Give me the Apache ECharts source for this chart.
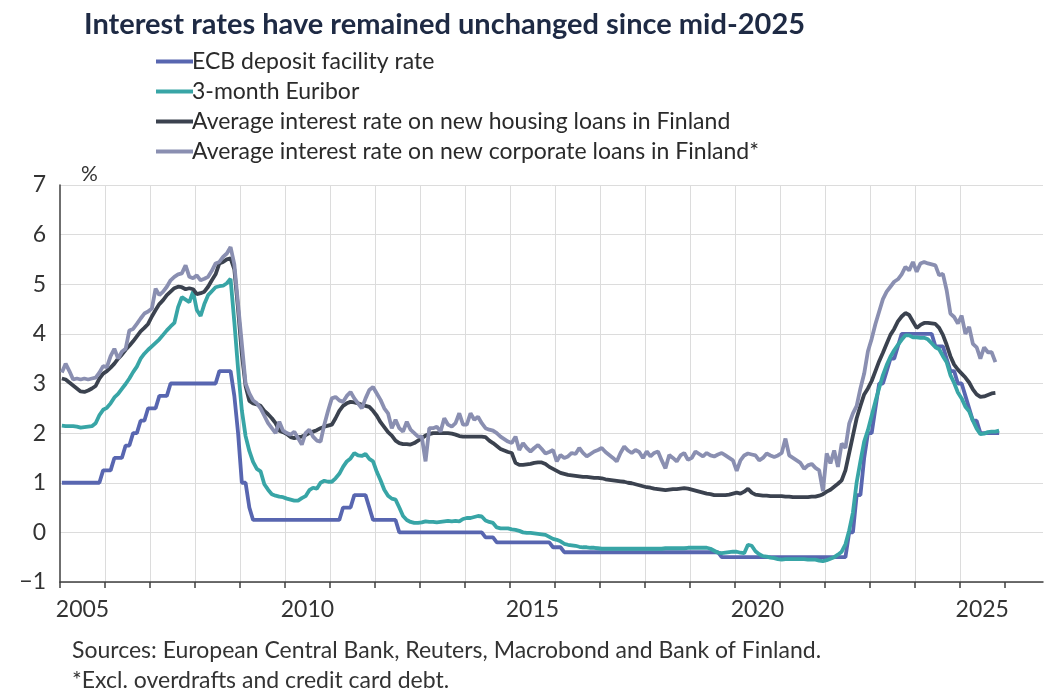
<!DOCTYPE html>
<html>
<head>
<meta charset="utf-8">
<script src="https://cdn.jsdelivr.net/npm/echarts@6/dist/echarts.min.js"></script>
<style>
html,body{margin:0;padding:0;background:#fff;}
#chart{width:1046px;height:691px;}
</style>
</head>
<body>
<div id="chart"></div>
<script>
// Monthly observations, first value = January 2005
const startYear = 2005;

const seriesNames = [
  'ECB deposit facility rate',
  '3-month Euribor',
  'Average interest rate on new housing loans in Finland',
  'Average interest rate on new corporate loans in Finland*'
];

const ecbDepositRate = [
  1.00,1.00,1.00,1.00,1.00,1.00,1.00,1.00,1.00,1.00,1.00,1.25, // 2005
  1.25,1.25,1.50,1.50,1.50,1.75,1.75,2.00,2.00,2.25,2.25,2.50, // 2006
  2.50,2.50,2.75,2.75,2.75,3.00,3.00,3.00,3.00,3.00,3.00,3.00, // 2007
  3.00,3.00,3.00,3.00,3.00,3.00,3.25,3.25,3.25,3.25,2.75,2.00, // 2008
  1.00,1.00,0.50,0.25,0.25,0.25,0.25,0.25,0.25,0.25,0.25,0.25, // 2009
  0.25,0.25,0.25,0.25,0.25,0.25,0.25,0.25,0.25,0.25,0.25,0.25, // 2010
  0.25,0.25,0.25,0.50,0.50,0.50,0.75,0.75,0.75,0.75,0.50,0.25, // 2011
  0.25,0.25,0.25,0.25,0.25,0.25,0.00,0.00,0.00,0.00,0.00,0.00, // 2012
  0.00,0.00,0.00,0.00,0.00,0.00,0.00,0.00,0.00,0.00,0.00,0.00, // 2013
  0.00,0.00,0.00,0.00,0.00,-0.10,-0.10,-0.10,-0.20,-0.20,-0.20,-0.20, // 2014
  -0.20,-0.20,-0.20,-0.20,-0.20,-0.20,-0.20,-0.20,-0.20,-0.20,-0.20,-0.30, // 2015
  -0.30,-0.30,-0.40,-0.40,-0.40,-0.40,-0.40,-0.40,-0.40,-0.40,-0.40,-0.40, // 2016
  -0.40,-0.40,-0.40,-0.40,-0.40,-0.40,-0.40,-0.40,-0.40,-0.40,-0.40,-0.40, // 2017
  -0.40,-0.40,-0.40,-0.40,-0.40,-0.40,-0.40,-0.40,-0.40,-0.40,-0.40,-0.40, // 2018
  -0.40,-0.40,-0.40,-0.40,-0.40,-0.40,-0.40,-0.40,-0.50,-0.50,-0.50,-0.50, // 2019
  -0.50,-0.50,-0.50,-0.50,-0.50,-0.50,-0.50,-0.50,-0.50,-0.50,-0.50,-0.50, // 2020
  -0.50,-0.50,-0.50,-0.50,-0.50,-0.50,-0.50,-0.50,-0.50,-0.50,-0.50,-0.50, // 2021
  -0.50,-0.50,-0.50,-0.50,-0.50,-0.50,0.00,0.00,0.75,0.75,1.50,2.00, // 2022
  2.00,2.50,3.00,3.00,3.25,3.50,3.50,3.75,4.00,4.00,4.00,4.00, // 2023
  4.00,4.00,4.00,4.00,4.00,3.75,3.75,3.75,3.50,3.25,3.25,3.00, // 2024
  3.00,2.75,2.50,2.25,2.25,2.00,2.00,2.00,2.00,2.00,2.00       // 2025
];

const euribor3m = [
  2.15,2.14,2.14,2.14,2.13,2.11,2.12,2.13,2.14,2.20,2.36,2.47,
  2.51,2.60,2.72,2.79,2.89,2.99,3.10,3.23,3.34,3.50,3.60,3.68,
  3.75,3.82,3.89,3.98,4.07,4.15,4.22,4.54,4.74,4.69,4.64,4.85,
  4.48,4.36,4.60,4.78,4.86,4.94,4.96,4.97,5.02,5.11,4.24,3.29,
  2.46,1.94,1.64,1.42,1.28,1.23,0.97,0.86,0.77,0.74,0.72,0.71,
  0.68,0.66,0.64,0.64,0.69,0.73,0.85,0.90,0.88,1.00,1.04,1.02,
  1.02,1.09,1.18,1.32,1.43,1.49,1.60,1.55,1.54,1.58,1.48,1.43,
  1.22,1.05,0.86,0.74,0.68,0.66,0.50,0.33,0.25,0.21,0.19,0.19,
  0.20,0.22,0.21,0.21,0.20,0.21,0.22,0.23,0.22,0.23,0.22,0.27,
  0.29,0.29,0.31,0.33,0.32,0.24,0.21,0.19,0.10,0.08,0.08,0.08,
  0.06,0.05,0.03,0.00,-0.01,-0.01,-0.02,-0.03,-0.04,-0.05,-0.09,-0.13,
  -0.15,-0.18,-0.23,-0.25,-0.26,-0.27,-0.29,-0.30,-0.30,-0.31,-0.31,-0.32,
  -0.33,-0.33,-0.33,-0.33,-0.33,-0.33,-0.33,-0.33,-0.33,-0.33,-0.33,-0.33,
  -0.33,-0.33,-0.33,-0.33,-0.33,-0.32,-0.32,-0.32,-0.32,-0.32,-0.32,-0.31,
  -0.31,-0.31,-0.31,-0.31,-0.31,-0.33,-0.37,-0.41,-0.42,-0.41,-0.40,-0.39,
  -0.39,-0.41,-0.42,-0.25,-0.27,-0.38,-0.44,-0.48,-0.49,-0.51,-0.52,-0.54,
  -0.55,-0.54,-0.54,-0.54,-0.54,-0.54,-0.54,-0.55,-0.55,-0.55,-0.57,-0.58,
  -0.56,-0.53,-0.50,-0.45,-0.39,-0.24,0.04,0.40,1.01,1.43,1.83,2.06,
  2.35,2.64,2.91,3.17,3.37,3.54,3.67,3.78,3.88,3.97,3.97,3.93,
  3.93,3.92,3.92,3.89,3.81,3.73,3.69,3.55,3.43,3.17,3.01,2.82,
  2.70,2.53,2.44,2.25,2.09,1.98,1.99,2.02,2.03,2.03,2.05
];

const housingLoanRate = [
  3.10,3.08,3.02,2.96,2.90,2.84,2.83,2.86,2.90,2.95,3.10,3.20,
  3.25,3.32,3.40,3.50,3.58,3.68,3.76,3.85,3.95,4.05,4.12,4.20,
  4.35,4.48,4.60,4.68,4.78,4.85,4.92,4.95,4.94,4.90,4.92,4.90,
  4.80,4.82,4.85,4.95,5.08,5.20,5.42,5.45,5.50,5.52,5.30,4.50,
  3.60,2.95,2.65,2.60,2.58,2.55,2.45,2.38,2.30,2.20,2.05,2.02,
  1.98,1.92,1.90,1.92,1.93,1.96,2.00,2.03,2.06,2.10,2.13,2.15,
  2.17,2.30,2.45,2.55,2.60,2.63,2.62,2.60,2.57,2.55,2.53,2.45,
  2.35,2.22,2.12,2.02,1.95,1.85,1.80,1.78,1.78,1.77,1.80,1.85,
  1.90,1.95,1.98,2.00,2.00,2.00,2.00,2.00,1.99,1.97,1.94,1.93,
  1.93,1.93,1.93,1.93,1.93,1.92,1.85,1.80,1.74,1.68,1.65,1.62,
  1.60,1.40,1.36,1.36,1.37,1.38,1.40,1.41,1.41,1.38,1.32,1.28,
  1.24,1.20,1.18,1.16,1.15,1.14,1.13,1.12,1.12,1.11,1.10,1.10,
  1.09,1.07,1.06,1.05,1.04,1.03,1.02,1.00,0.99,0.97,0.95,0.93,
  0.91,0.90,0.88,0.87,0.86,0.85,0.86,0.87,0.87,0.88,0.89,0.88,
  0.86,0.84,0.82,0.80,0.78,0.77,0.75,0.75,0.75,0.75,0.76,0.78,
  0.80,0.78,0.82,0.88,0.80,0.76,0.75,0.74,0.74,0.73,0.73,0.73,
  0.73,0.72,0.72,0.71,0.71,0.71,0.71,0.71,0.72,0.72,0.74,0.77,
  0.82,0.86,0.92,0.98,1.05,1.25,1.60,1.95,2.30,2.55,2.78,2.90,
  3.05,3.25,3.45,3.62,3.80,3.98,4.10,4.25,4.35,4.42,4.38,4.25,
  4.12,4.18,4.22,4.22,4.21,4.20,4.12,3.98,3.78,3.55,3.38,3.28,
  3.20,3.12,3.02,2.88,2.78,2.73,2.74,2.77,2.80,2.81
];

const corporateLoanRate = [
  3.22,3.40,3.25,3.08,3.10,3.08,3.10,3.08,3.10,3.12,3.22,3.35,
  3.33,3.55,3.70,3.50,3.64,3.70,4.07,4.10,4.20,4.31,4.41,4.45,
  4.51,4.91,4.78,4.85,4.95,5.08,5.15,5.20,5.22,5.38,5.15,5.12,
  5.18,5.08,5.11,5.15,5.27,5.42,5.45,5.55,5.62,5.75,5.40,4.60,
  3.80,3.00,2.80,2.66,2.60,2.50,2.35,2.20,2.10,2.00,2.23,2.05,
  2.00,1.97,2.03,1.90,1.77,2.00,2.07,1.93,1.85,1.83,2.17,2.45,
  2.70,2.73,2.66,2.63,2.75,2.83,2.70,2.60,2.50,2.70,2.87,2.93,
  2.80,2.67,2.50,2.40,2.10,2.27,2.10,2.03,2.23,2.07,2.00,1.93,
  1.93,1.43,2.10,2.10,2.13,2.03,2.30,2.17,2.13,2.20,2.40,2.17,
  2.17,2.40,2.27,2.33,2.20,2.10,2.07,2.05,2.00,1.93,1.88,1.83,
  1.80,1.93,1.66,1.80,1.70,1.63,1.70,1.76,1.68,1.59,1.62,1.66,
  1.43,1.56,1.50,1.53,1.60,1.58,1.70,1.60,1.53,1.58,1.63,1.66,
  1.70,1.62,1.56,1.50,1.43,1.60,1.73,1.65,1.60,1.66,1.62,1.50,
  1.63,1.53,1.60,1.63,1.45,1.29,1.56,1.50,1.43,1.55,1.60,1.46,
  1.50,1.63,1.58,1.53,1.60,1.55,1.53,1.57,1.60,1.55,1.50,1.45,
  1.24,1.45,1.55,1.59,1.57,1.55,1.45,1.50,1.59,1.55,1.52,1.55,
  1.60,1.89,1.55,1.50,1.45,1.40,1.28,1.35,1.38,1.30,1.25,0.83,
  1.59,1.39,1.65,1.32,1.79,1.70,2.19,2.40,2.55,2.90,3.20,3.65,
  3.90,4.20,4.45,4.70,4.85,4.95,5.05,5.10,5.20,5.35,5.28,5.45,
  5.25,5.42,5.45,5.42,5.40,5.38,5.18,5.21,4.88,4.41,4.34,4.21,
  4.37,4.00,4.14,3.80,3.73,3.50,3.73,3.63,3.63,3.43
];

const yTicks = [-1, 0, 1, 2, 3, 4, 5, 6, 7];
const yearTicks = [2005,2006,2007,2008,2009,2010,2011,2012,2013,2014,2015,2016,2017,2018,2019,2020,2021,2022,2023,2024,2025,2026];
const yearLabels = [2005, 2010, 2015, 2020, 2025];

const colors = ['#5866b0', '#38a5a6', '#3b424f', '#8a8fb1'];
const FONT = 'Lato';

// monthly observations are placed at mid-month
function toPoints(arr) {
  return arr.map((v, i) => [startYear + (i + 0.5) / 12, v]);
}

const chart = echarts.init(document.getElementById('chart'), null, {renderer: 'canvas'});

const seriesData = [ecbDepositRate, euribor3m, housingLoanRate, corporateLoanRate];

chart.setOption({
  animation: false,
  backgroundColor: '#ffffff',
  color: colors,
  textStyle: {fontFamily: FONT},
  title: {
    text: 'Interest rates have remained unchanged since mid-2025',
    left: 79,
    top: 5,
    textStyle: {fontFamily: FONT, fontWeight: 'bold', fontSize: 29, color: '#1e2a44'}
  },
  legend: {
    orient: 'vertical',
    left: 151,
    top: 45,
    itemWidth: 37,
    itemHeight: 4,
    itemGap: 7,
    icon: 'rect',
    selectedMode: false,
    data: seriesNames,
    textStyle: {fontFamily: FONT, fontSize: 23, color: '#2a2a2a', padding: [0, 0, 0, -6]}
  },
  grid: {left: 60, right: 3, top: 185, bottom: 109, containLabel: false},
  xAxis: {
    type: 'value',
    min: 2005,
    max: 2026.85,
    interval: 5,
    axisLine: {onZero: false, lineStyle: {color: '#3f3f3f', width: 1.5}},
    axisTick: {show: true, inside: false, length: 6, customValues: yearTicks, lineStyle: {color: '#3f3f3f', width: 1.5}},
    axisLabel: {
      customValues: yearLabels.map(y => y + 0.5),
      formatter: v => String(Math.floor(v)),
      fontFamily: FONT, fontSize: 23, color: '#333', margin: 16
    },
    splitLine: {show: true, showMinLine: false, showMaxLine: false, lineStyle: {color: '#dcdcdc', width: 1}}
  },
  yAxis: {
    type: 'value',
    min: -1,
    max: 7,
    interval: 1,
    axisLine: {show: true, lineStyle: {color: '#3f3f3f', width: 1.5}},
    axisTick: {show: false},
    axisLabel: {
      formatter: v => (v < 0 ? '\u2212' + Math.abs(v) : String(v)),
      fontFamily: FONT, fontSize: 23, color: '#333', margin: 14
    },
    splitLine: {show: true, lineStyle: {color: '#dcdcdc', width: 1}}
  },
  graphic: [
    {type: 'text', left: 81, top: 164, style: {text: '%', fontFamily: FONT, fontSize: 21, fill: '#333'}},
    {type: 'text', left: 72, top: 639, style: {text: 'Sources: European Central Bank, Reuters, Macrobond and Bank of Finland.', fontFamily: FONT, fontSize: 23, fill: '#333'}},
    {type: 'text', left: 72, top: 669, style: {text: '*Excl. overdrafts and credit card debt.', fontFamily: FONT, fontSize: 23, fill: '#333'}}
  ],
  series: seriesNames.map((name, i) => ({
    name: name,
    type: 'line',
    data: toPoints(seriesData[i]),
    showSymbol: false,
    symbol: 'none',
    lineStyle: {width: 3.8, color: colors[i]},
    z: 2 + i
  }))
});
</script>
</body>
</html>
